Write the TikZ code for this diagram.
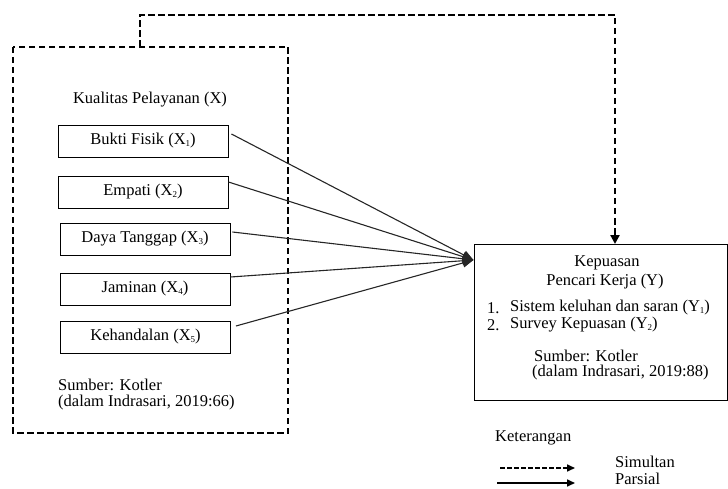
\documentclass[tikz,border=0pt]{standalone}
\usepackage{fontspec}
\setmainfont{Liberation Serif}
\usetikzlibrary{arrows.meta,calc}
\newcommand{\sbs}[1]{\raisebox{-0.2ex}{\fontsize{9}{10}\selectfont #1}}
\begin{document}
\begin{tikzpicture}[x=1pt,y=-1pt,
  txt/.style={inner sep=0pt,font=\fontsize{16.5}{19}\selectfont},
  varbox/.style={draw,line width=0.9pt,minimum width=170pt,minimum height=32pt,inner sep=0pt,font=\fontsize{16.5}{19}\selectfont},
  simline/.style={line width=2.2pt,dash pattern=on 6.5pt off 3.5pt},
  parline/.style={line width=1.1pt,draw=black!85},
  tip/.style={-{Triangle[length=11pt,width=9pt]}}
]
\useasboundingbox (0,0) rectangle (728,489);
% dashed group box
\draw[simline] (13,47) rectangle (288,433);
\node[txt] (title) at (150,100) {Kualitas Pelayanan (X)};
\node[varbox] (b1) at (143,141) {Bukti Fisik (X\sbs{1})};
\node[varbox] (b2) at (143,192) {Empati (X\sbs{2})};
\node[varbox] (b3) at (145,239) {Daya Tanggap (X\sbs{3})};
\node[varbox] (b4) at (145,289) {Jaminan (X\sbs{4})};
\node[varbox] (b5) at (145.5,337) {Kehandalan (X\sbs{5})};
\node[txt,anchor=west] (s1) at (58,385) {Sumber: Kotler};
\node[txt,anchor=west] (s2) at (58,402.5) {(dalam Indrasari, 2019:66)};
% Y box
\node[draw,line width=0.9pt,minimum width=253pt,minimum height=156pt,inner sep=0pt,anchor=north west] (y) at (473.5,244) {};
\node[txt] (y1) at (607,262.5) {Kepuasan};
\node[txt] (y2) at (605,281.5) {Pencari Kerja (Y)};
\node[txt,anchor=west] (l1n) at (487,308) {1.};
\node[txt,anchor=west] (l1) at (510,308) {Sistem keluhan dan saran (Y\sbs{1})};
\node[txt,anchor=west] (l2n) at (487,325) {2.};
\node[txt,anchor=west] (l2) at (510,325) {Survey Kepuasan (Y\sbs{2})};
\node[txt,anchor=west] (ys1) at (534,356) {Sumber: Kotler};
\node[txt,anchor=west] (ys2) at (532,373) {(dalam Indrasari, 2019:88)};
% convergence point
\coordinate (conv) at (y.north west |- 0,260);
\draw[parline,tip] ($(b1.east)+(3,-7)$) -- (conv);
\draw[parline,tip] ($(b2.east)+(0,-10)$) -- (conv);
\draw[parline,tip] ($(b3.east)+(2,-7)$) -- (conv);
\draw[parline,tip] ($(b4.east)+(0,-12)$) -- (conv);
\draw[parline,tip] ($(b5.east)+(5,-11)$) -- (conv);
% simultaneous arrow
\coordinate (up) at (140,15);
\draw[simline,-{Triangle[length=9pt,width=9pt]}] (140,47) -- (up) -- (615,15) -- (615 ,244);
% legend
\node[txt,anchor=west] (ket) at (495,438) {Keterangan};
\coordinate (ld1) at (500,468);
\coordinate (ld2) at (575,468);
\coordinate (lp1) at (497,483);
\coordinate (lp2) at (575,483);
\draw[line width=1.6pt,dash pattern=on 4.5pt off 2.5pt,-{Triangle[length=8pt,width=7pt]}] (ld1) -- (ld2);
\draw[line width=1.6pt,-{Triangle[length=8pt,width=7pt]}] (lp1) -- (lp2);
\node[txt,anchor=west] (sim) at (615,462) {Simultan};
\node[txt,anchor=west] (par) at (615,479) {Parsial};
\end{tikzpicture}
\end{document}
